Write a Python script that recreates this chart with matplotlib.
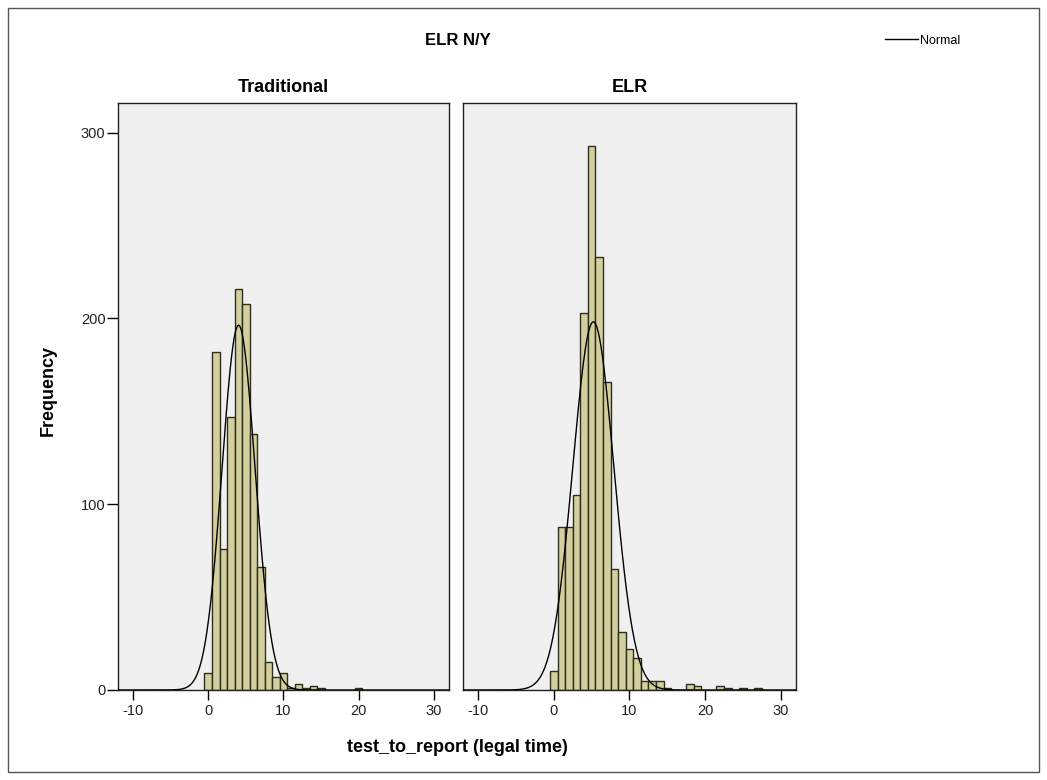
import matplotlib.pyplot as plt
import numpy as np
from matplotlib.lines import Line2D
from matplotlib.patches import Rectangle

plt.rcParams['font.family'] = ['Liberation Sans', 'DejaVu Sans']
plt.rcParams['axes.unicode_minus'] = False

# Frequencies per 1-unit bin (bin centres = values)
trad_values = [0, 1, 2, 3, 4, 5, 6, 7, 8, 9, 10, 11, 12, 13, 14, 15, 20]
trad_counts = [9, 182, 76, 147, 216, 208, 138, 66, 15, 7, 9, 1, 3, 1, 2, 1, 1]

elr_values = [0, 1, 2, 3, 4, 5, 6, 7, 8, 9, 10, 11, 12, 13, 14, 15, 18, 19, 22, 23, 25, 27]
elr_counts = [10, 88, 88, 105, 203, 293, 233, 166, 65, 31, 22, 17, 5, 5, 5, 1, 3, 2, 2, 1, 1, 1]

panel_titles = ['Traditional', 'ELR']
x_ticks = [-10, 0, 10, 20, 30]
y_ticks = [0, 100, 200, 300]

bar_color = '#d4cf9e'
edge_color = '#2e2e1a'
panel_bg = '#f0f0f0'

fig = plt.figure(figsize=(10.47, 7.80), dpi=100)

# marco exterior
fig.patches.append(Rectangle((0.008, 0.01), 0.984, 0.98, transform=fig.transFigure,
                             fill=False, edgecolor='#555555', linewidth=1))

ax1 = fig.add_axes([0.1127, 0.1154, 0.316, 0.7526])
ax2 = fig.add_axes([0.4422, 0.1154, 0.318, 0.7526], sharey=ax1)

for ax, vals, cnts, title in [(ax1, trad_values, trad_counts, panel_titles[0]),
                              (ax2, elr_values, elr_counts, panel_titles[1])]:
    vals = np.array(vals, dtype=float)
    cnts = np.array(cnts, dtype=float)
    ax.set_facecolor(panel_bg)
    ax.bar(vals, cnts, width=1.0, color=bar_color, edgecolor=edge_color,
           linewidth=1.0, zorder=2)

    # curva normal ajustada a los datos
    n = cnts.sum()
    mu = (vals * cnts).sum() / n
    sd = np.sqrt(((vals - mu) ** 2 * cnts).sum() / (n - 1))
    xs = np.linspace(-12, 32, 500)
    ys = n / (sd * np.sqrt(2 * np.pi)) * np.exp(-0.5 * ((xs - mu) / sd) ** 2)
    ax.plot(xs, ys, color='black', linewidth=1.0, zorder=3)

    ax.set_xlim(-12, 32)
    ax.set_ylim(0, 316)
    ax.set_xticks(x_ticks)
    ax.tick_params(axis='x', direction='out', length=7, width=1, labelsize=10.5,
                   pad=3, labelcolor='#222222')
    ax.set_title(title, fontsize=13, fontweight='bold', pad=8)
    for sp in ax.spines.values():
        sp.set_linewidth(1.0)
        sp.set_color('#222222')

ax1.set_yticks(y_ticks)
ax1.tick_params(axis='y', direction='out', length=8, width=1, labelsize=10.5, pad=1,
                labelcolor='#222222')
ax2.tick_params(axis='y', left=False, labelleft=False)

fig.text(0.046, 0.5, 'Frequency', rotation=90, fontsize=13, fontweight='bold',
         ha='center', va='center')
fig.text(0.437, 0.042, 'test_to_report (legal time)', fontsize=13, fontweight='bold',
         ha='center', va='center')
fig.text(0.437, 0.948, 'ELR N/Y', fontsize=12, fontweight='bold',
         ha='center', va='center')

fig.legend(handles=[Line2D([], [], color='black', linewidth=1)], labels=['Normal'],
           loc='center left', bbox_to_anchor=(0.835, 0.948), frameon=False,
           fontsize=9, handlelength=2.6, handletextpad=0.2)

fig.savefig('out.png', dpi=100)
